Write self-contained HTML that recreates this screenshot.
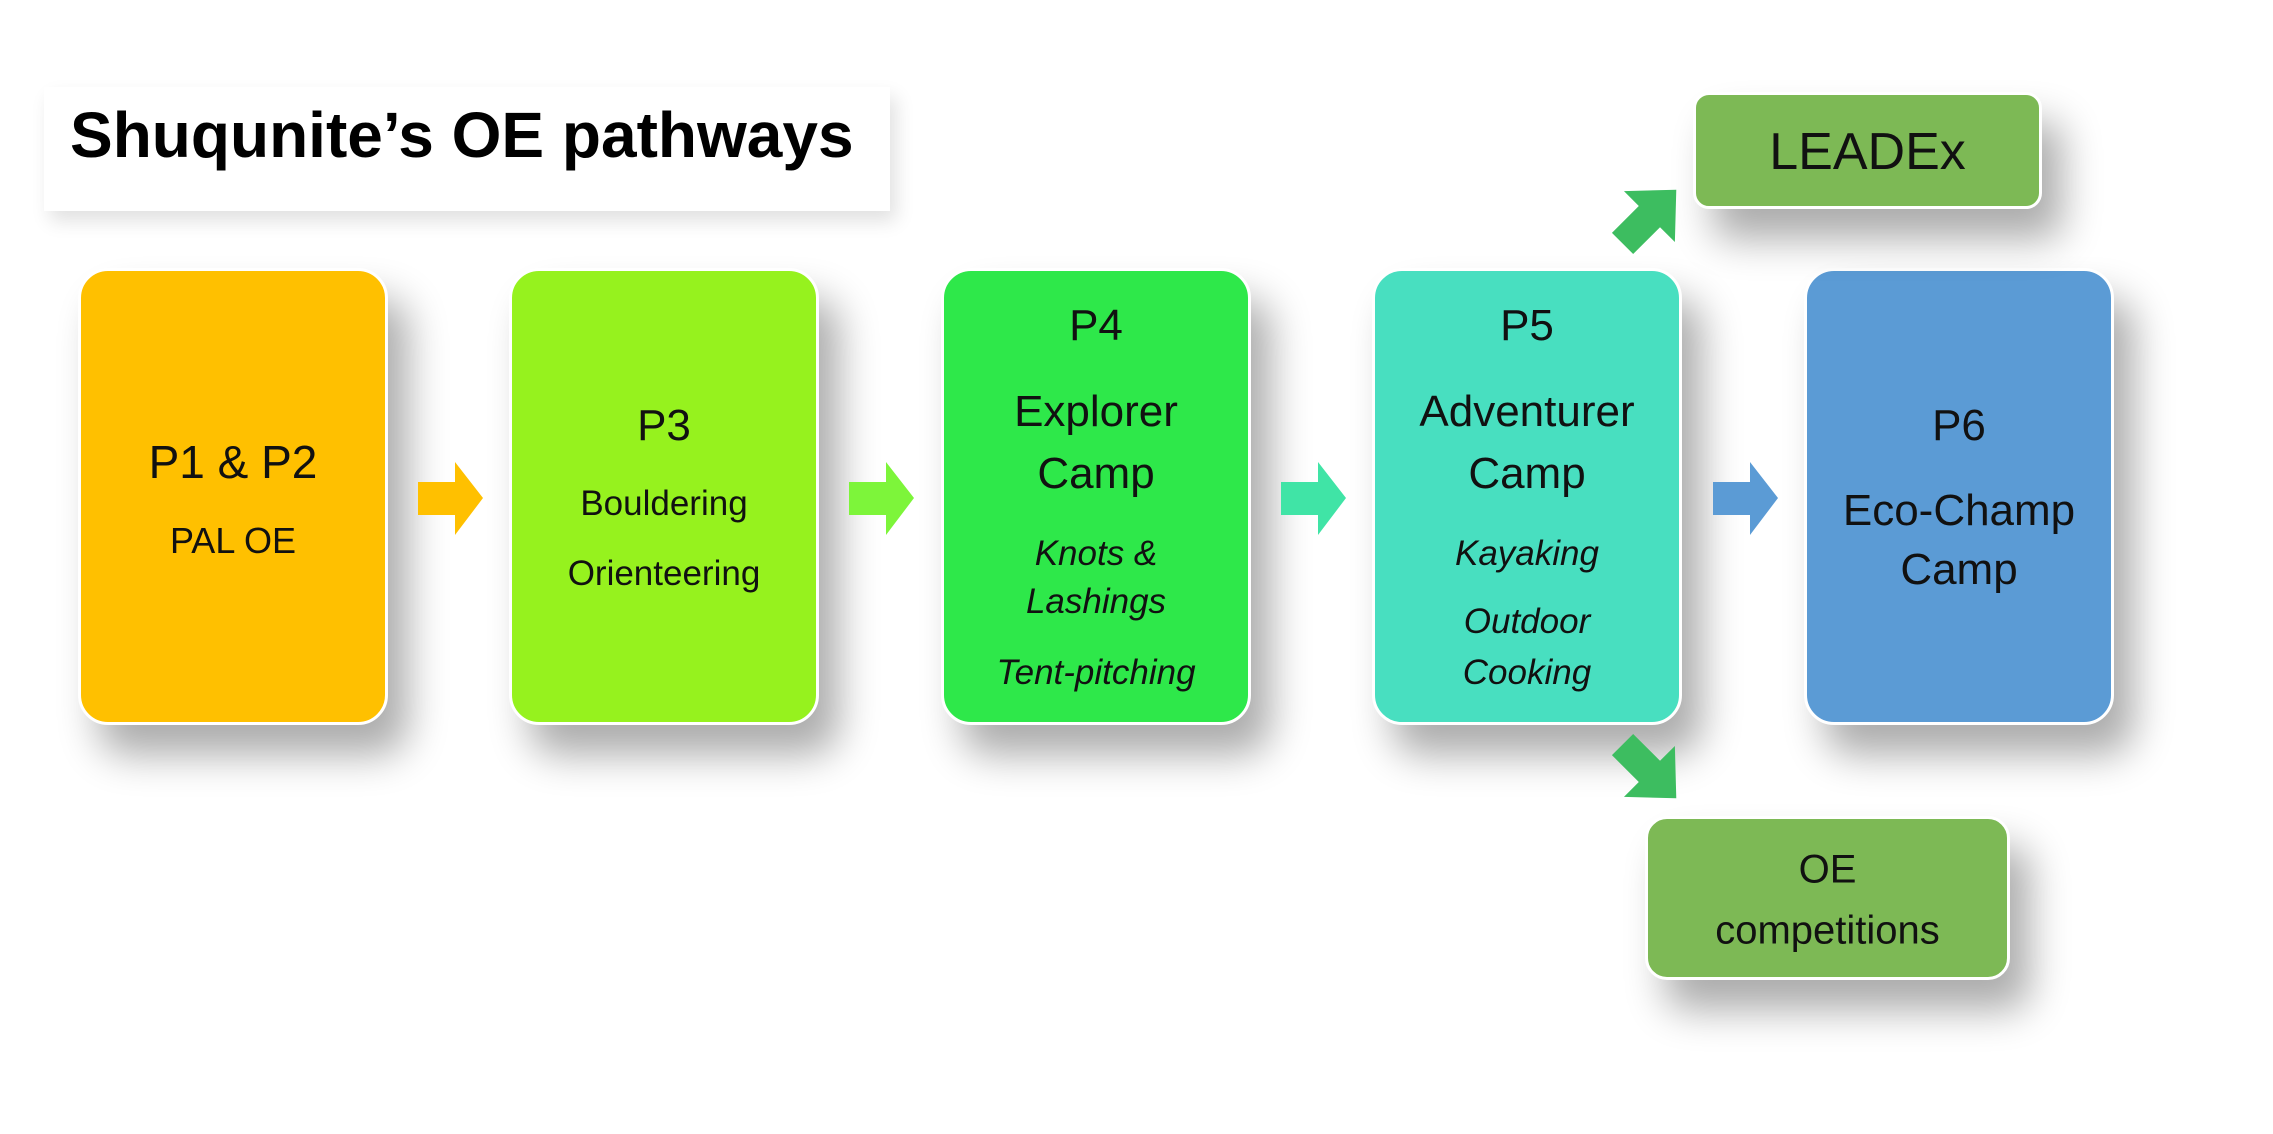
<!DOCTYPE html>
<html><head><meta charset="utf-8"><style>
body{margin:0;width:2273px;height:1134px;background:#fff;position:relative;overflow:hidden;font-family:"Liberation Sans",sans-serif;}
.b{position:absolute;border-radius:30px;border:3px solid #fff;box-shadow:20px 30px 40px rgba(0,0,0,0.33);box-sizing:border-box;}
.t{position:absolute;left:0;width:100%;text-align:center;transform:translateY(-50%);color:#111;white-space:nowrap;}
.i{font-style:italic;}
svg{position:absolute;left:0;top:0;}
</style></head><body>
<div style="position:absolute;left:44px;top:87px;width:846px;height:124px;background:#fff;box-shadow:6px 10px 18px rgba(0,0,0,0.12);"></div>
<div style="position:absolute;left:70px;top:98px;font-weight:bold;font-size:64px;color:#000;">Shuqunite’s OE pathways</div>

<div class="b" style="left:78px;top:268px;width:310px;height:457px;background:#FFC000;">
<div class="t" style="top:191px;font-size:46px;">P1 &amp; P2</div>
<div class="t" style="top:270px;font-size:36px;">PAL OE</div></div>

<div class="b" style="left:509px;top:268px;width:310px;height:457px;background:#96F21E;">
<div class="t" style="top:155px;font-size:44px;">P3</div>
<div class="t" style="top:233px;font-size:35px;">Bouldering</div>
<div class="t" style="top:303px;font-size:35px;">Orienteering</div></div>

<div class="b" style="left:941px;top:268px;width:310px;height:457px;background:#2EE84A;">
<div class="t" style="top:55px;font-size:44px;">P4</div>
<div class="t" style="top:141px;font-size:44px;">Explorer</div>
<div class="t" style="top:203px;font-size:44px;">Camp</div>
<div class="t i" style="top:283px;font-size:35px;">Knots &amp;</div>
<div class="t i" style="top:331px;font-size:35px;">Lashings</div>
<div class="t i" style="top:402px;font-size:35px;">Tent-pitching</div></div>

<div class="b" style="left:1372px;top:268px;width:310px;height:457px;background:#48DFC0;">
<div class="t" style="top:55px;font-size:44px;">P5</div>
<div class="t" style="top:141px;font-size:44px;">Adventurer</div>
<div class="t" style="top:203px;font-size:44px;">Camp</div>
<div class="t i" style="top:283px;font-size:35px;">Kayaking</div>
<div class="t i" style="top:351px;font-size:35px;">Outdoor</div>
<div class="t i" style="top:402px;font-size:35px;">Cooking</div></div>

<div class="b" style="left:1804px;top:268px;width:310px;height:457px;background:#5B9BD5;">
<div class="t" style="top:155px;font-size:44px;">P6</div>
<div class="t" style="top:240px;font-size:44px;">Eco-Champ</div>
<div class="t" style="top:299px;font-size:44px;">Camp</div></div>

<div class="b" style="left:1693px;top:92px;width:349px;height:117px;border-radius:16px;background:#7DB955;">
<div class="t" style="top:57px;font-size:52px;">LEADEx</div></div>

<div class="b" style="left:1645px;top:816px;width:365px;height:164px;border-radius:22px;background:#7DB955;">
<div class="t" style="top:51px;font-size:40px;">OE</div>
<div class="t" style="top:112px;font-size:40px;">competitions</div></div>

<svg width="2273" height="1134">
<g>
<polygon points="418,482 455,482 455,462 483,498 455,535 455,515 418,515" fill="#FFC000"/>
<polygon points="849,482 886,482 886,462 914,498 886,535 886,515 849,515" fill="#7DF53A"/>
<polygon points="1281,482 1318,482 1318,462 1346,498 1318,535 1318,515 1281,515" fill="#40E4A6"/>
<polygon points="1713,482 1750,482 1750,462 1778,498 1750,535 1750,515 1713,515" fill="#5B9BD5"/>
<g transform="translate(1648,218) rotate(-45)"><polygon points="-36,-15 2,-15 2,-36 40,0 2,36 2,15 -36,15" fill="#3DBD60"/></g>
<g transform="translate(1648,770) rotate(45)"><polygon points="-36,-15 2,-15 2,-36 40,0 2,36 2,15 -36,15" fill="#3DBD60"/></g>
</g></svg>
</body></html>
